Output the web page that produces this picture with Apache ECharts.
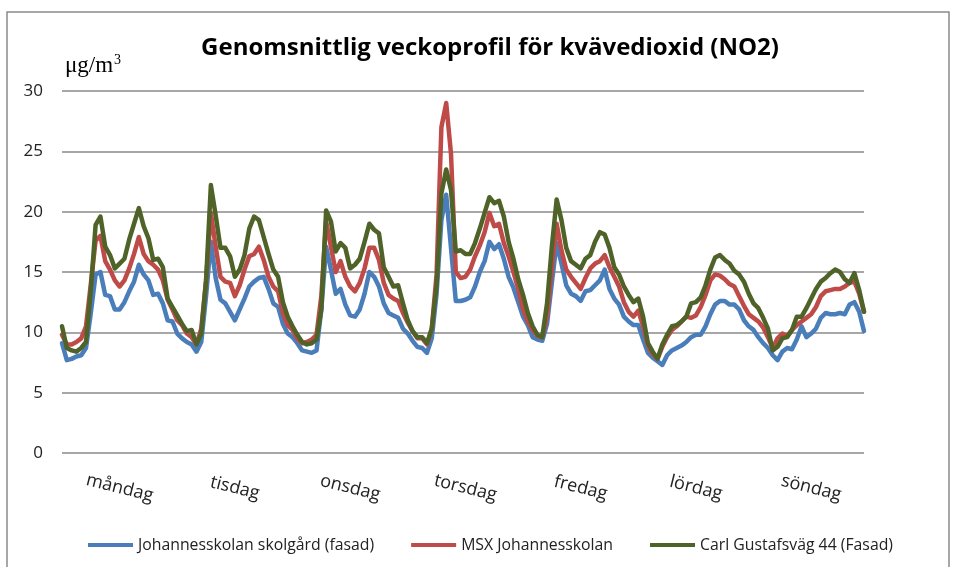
<!DOCTYPE html>
<html>
<head>
<meta charset="utf-8">
<title>NO2 veckoprofil</title>
<script src="https://cdn.jsdelivr.net/npm/echarts@6/dist/echarts.min.js"></script>
<style>
    html, body { margin: 0; padding: 0; background: #fff; }
    #main { width: 957px; height: 567px; }
</style>
</head>
<body>
<div id="main"></div>
<script>
// dagar och timmar (24 värden per dag)
var days = ['måndag', 'tisdag', 'onsdag', 'torsdag', 'fredag', 'lördag', 'söndag'];
var hoursPerDay = 24;
var yTicks = [0, 5, 10, 15, 20, 25, 30];
var seriesNames = ['Johannesskolan skolgård (fasad)', 'MSX Johannesskolan', 'Carl Gustafsväg 44 (Fasad)'];

// Johannesskolan skolgård (fasad)
var johannesFasad = [
    9.1, 7.7, 7.8, 8.0, 8.1, 8.7, 11.6, 14.8, 15.0, 13.1, 13.0, 11.9, 11.9, 12.5, 13.4, 14.2, 15.6, 14.8, 14.3, 13.1, 13.2, 12.4, 11.0, 10.9,
    9.9, 9.5, 9.2, 9.0, 8.4, 9.2, 13.0, 17.5, 14.5, 12.7, 12.4, 11.7, 11.0, 11.9, 12.8, 13.8, 14.2, 14.5, 14.6, 13.6, 12.4, 12.1, 10.7, 9.9,
    9.6, 9.1, 8.5, 8.4, 8.3, 8.5, 11.9, 17.1, 15.2, 13.2, 13.6, 12.3, 11.4, 11.3, 11.9, 13.2, 15.0, 14.6, 13.8, 12.4, 11.6, 11.4, 11.2, 10.3,
    9.9, 9.3, 8.8, 8.7, 8.3, 9.5, 13.2, 19.3, 21.4, 17.0, 12.6, 12.6, 12.7, 12.9, 13.8, 15.0, 15.9, 17.5, 16.9, 17.3, 16.1, 14.6, 13.7, 12.5,
    11.3, 10.6, 9.6, 9.4, 9.3, 10.7, 14.1, 17.4, 15.7, 13.9, 13.2, 13.0, 12.6, 13.4, 13.5, 13.9, 14.3, 15.2, 13.6, 12.8, 12.3, 11.3, 10.9, 10.6,
    10.6, 9.4, 8.3, 7.9, 7.6, 7.3, 8.1, 8.5, 8.7, 8.9, 9.2, 9.6, 9.8, 9.8, 10.5, 11.5, 12.3, 12.6, 12.6, 12.3, 12.3, 11.9, 11.0, 10.5,
    10.2, 9.6, 9.1, 8.7, 8.1, 7.7, 8.4, 8.7, 8.6, 9.4, 10.5, 9.6, 9.9, 10.3, 11.2, 11.6, 11.5, 11.5, 11.6, 11.5, 12.3, 12.5, 11.7, 10.1
];

// MSX Johannesskolan
var msxJohannes = [
    9.8, 9.0, 9.0, 9.2, 9.5, 10.5, 14.0, 17.6, 18.0, 15.9, 15.2, 14.3, 13.8, 14.3, 15.3, 16.5, 17.9, 16.5, 15.9, 15.6, 15.2, 14.3, 12.7, 11.9,
    11.0, 10.6, 9.9, 9.6, 9.0, 10.3, 14.3, 19.9, 17.1, 14.6, 14.2, 14.1, 13.0, 13.9, 15.2, 16.3, 16.5, 17.1, 16.0, 14.6, 13.8, 13.4, 11.6, 10.6,
    10.2, 9.5, 9.1, 9.2, 9.4, 9.8, 13.0, 19.2, 17.1, 15.0, 15.9, 14.6, 13.8, 13.4, 14.1, 15.3, 17.0, 17.0, 16.0, 14.1, 13.1, 12.8, 12.6, 11.6,
    10.8, 10.1, 9.5, 9.5, 9.0, 10.3, 14.8, 27.0, 29.0, 24.8, 15.0, 14.5, 14.6, 15.2, 16.3, 17.2, 18.3, 19.9, 18.8, 19.0, 17.4, 16.3, 15.0, 13.6,
    11.9, 10.9, 10.2, 9.7, 9.6, 11.3, 15.4, 19.0, 16.8, 15.2, 14.6, 14.1, 13.6, 14.5, 15.3, 15.7, 15.9, 16.4, 15.4, 14.6, 13.8, 12.5, 11.7, 11.3,
    11.8, 10.5, 8.9, 8.2, 7.8, 8.8, 9.6, 10.2, 10.5, 10.9, 11.3, 11.2, 11.4, 12.1, 13.1, 14.3, 14.8, 14.7, 14.4, 14.0, 13.8, 13.0, 12.2, 11.5,
    11.2, 10.9, 10.4, 9.6, 8.7, 9.5, 9.9, 9.7, 10.2, 10.6, 10.9, 11.2, 11.5, 12.1, 13.0, 13.4, 13.5, 13.6, 13.6, 13.8, 14.1, 14.2, 13.2, 11.7
];

// Carl Gustafsväg 44 (Fasad)
var carlGustafsvag = [
    10.5, 8.7, 8.5, 8.4, 8.7, 9.2, 13.5, 18.9, 19.6, 17.1, 16.4, 15.3, 15.7, 16.1, 17.7, 19.0, 20.3, 18.8, 17.8, 16.0, 16.1, 15.4, 12.8, 12.1,
    11.4, 10.7, 10.1, 10.2, 9.0, 9.9, 14.3, 22.2, 19.7, 17.0, 17.0, 16.3, 14.6, 15.2, 16.4, 18.6, 19.6, 19.3, 17.9, 16.5, 15.2, 14.6, 12.5, 11.3,
    10.5, 9.8, 9.2, 9.0, 9.1, 9.4, 11.9, 20.1, 19.2, 16.7, 17.4, 17.0, 15.3, 15.6, 16.1, 17.5, 19.0, 18.5, 18.2, 15.4, 14.6, 13.8, 13.9, 12.4,
    11.0, 10.1, 9.6, 9.6, 9.1, 10.3, 13.9, 21.5, 23.5, 21.8, 16.7, 16.8, 16.5, 16.5, 17.4, 18.6, 19.9, 21.2, 20.7, 20.9, 19.6, 17.5, 16.1, 14.4,
    13.1, 11.6, 10.5, 9.8, 9.6, 12.4, 17.1, 21.0, 19.3, 17.0, 15.9, 15.6, 15.3, 16.1, 16.4, 17.5, 18.3, 18.1, 17.0, 15.4, 14.8, 13.8, 13.1, 12.5,
    12.8, 11.3, 9.1, 8.4, 7.8, 9.0, 9.8, 10.5, 10.6, 10.9, 11.3, 12.4, 12.5, 12.9, 13.9, 15.2, 16.2, 16.4, 16.0, 15.7, 15.1, 14.8, 14.2, 13.2,
    12.4, 12.0, 11.2, 10.3, 8.5, 8.8, 9.5, 9.6, 10.2, 11.3, 11.3, 12.0, 12.8, 13.6, 14.2, 14.5, 14.9, 15.2, 15.0, 14.4, 14.1, 14.9, 13.5, 11.7
];

var colors = ['#4a7ebb', '#be4b48', '#4f6228'];

// kategorier: varje timme får dagens namn
var categories = [];
for (var d = 0; d < days.length; d++) {
    for (var h = 0; h < hoursPerDay; h++) {
        categories.push(days[d]);
    }
}

var myChart = echarts.init(document.getElementById('main'));

function makeSeries(name, data, color) {
    return {
        name: name,
        type: 'line',
        data: data,
        showSymbol: false,
        smooth: false,
        lineStyle: {width: 4.5, color: color, join: 'round', cap: 'round'},
        itemStyle: {color: color},
        emphasis: {disabled: true},
        animation: false
    };
}

var option = {
    animation: false,
    title: {
        text: 'Genomsnittlig veckoprofil för kvävedioxid (NO2)',
        left: 485,
        top: 31,
        textAlign: 'center',
        textStyle: {
            fontFamily: 'Open Sans',
            fontWeight: 'bold',
            fontSize: 24,
            color: '#000'
        }
    },
    graphic: [
        {
            // ram runt diagrammet
            type: 'rect',
            shape: {x: 7, y: 12, width: 942, height: 600},
            style: {fill: 'none', stroke: '#8a8a8a', lineWidth: 1.5},
            silent: true
        },
        {
            type: 'text',
            left: 65,
            top: 53,
            style: {
                text: '{u|μg/m}{s|3}',
                rich: {
                    u: {fontFamily: 'Liberation Serif', fontSize: 23, color: '#222'},
                    s: {fontFamily: 'Liberation Serif', fontSize: 14, color: '#222', verticalAlign: 'top', padding: [0, 0, 12, 1]}
                }
            }
        }
    ],
    legend: {
        left: 83,
        top: 532,
        itemWidth: 45,
        itemHeight: 4,
        itemGap: 37,
        icon: 'rect',
        data: seriesNames,
        textStyle: {
            fontFamily: 'Open Sans',
            fontSize: 15.8,
            color: '#222'
        }
    },
    grid: {
        left: 62,
        right: 93,
        top: 91,
        bottom: 114
    },
    xAxis: {
        type: 'category',
        data: categories,
        boundaryGap: false,
        axisLine: {show: false},
        axisTick: {show: false},
        splitLine: {show: false},
        axisLabel: {
            interval: function (index) {
                return index % hoursPerDay === 12;
            },
            rotate: -14,
            align: 'center',
            verticalAlign: 'middle',
            margin: 35,
            fontFamily: 'Open Sans',
            fontSize: 18,
            color: '#222'
        }
    },
    yAxis: {
        type: 'value',
        min: yTicks[0],
        max: yTicks[yTicks.length - 1],
        interval: 5,
        axisLine: {show: false},
        axisTick: {show: false},
        axisLabel: {
            margin: 19,
            fontFamily: 'Open Sans',
            fontSize: 17,
            color: '#222'
        },
        splitLine: {
            lineStyle: {color: '#8a8a8a', width: 1.5}
        }
    },
    series: [
        makeSeries(seriesNames[0], johannesFasad, colors[0]),
        makeSeries(seriesNames[1], msxJohannes, colors[1]),
        makeSeries(seriesNames[2], carlGustafsvag, colors[2])
    ]
};
myChart.setOption(option);
</script>
</body>
</html>
